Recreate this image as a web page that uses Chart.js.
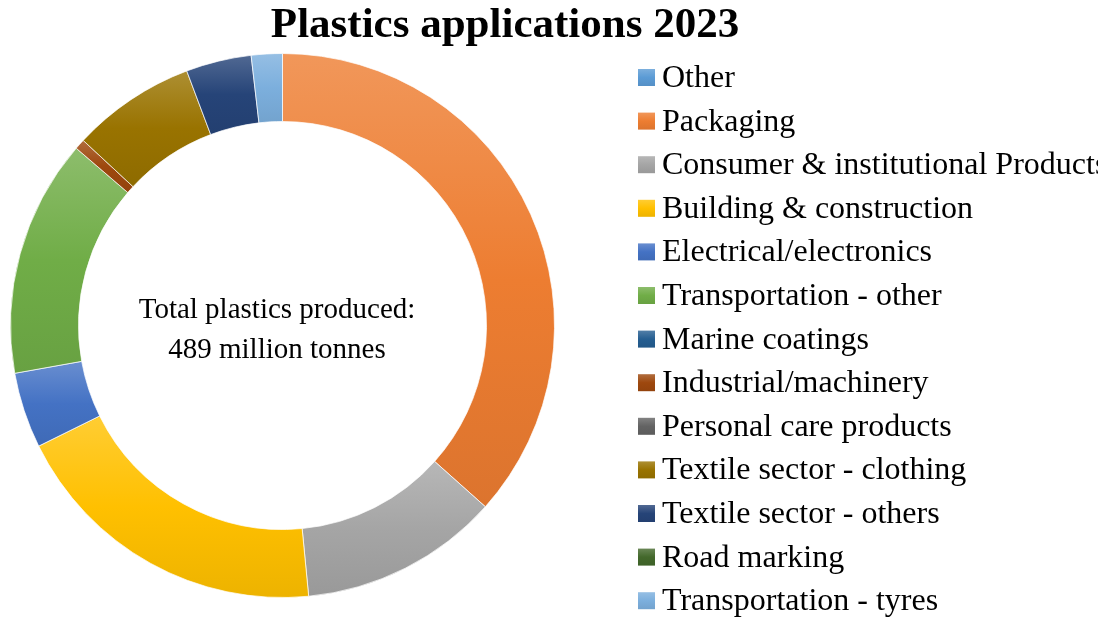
<!DOCTYPE html>
<html>
<head>
<meta charset="utf-8">
<title>Plastics applications 2023</title>
<script src="https://cdn.jsdelivr.net/npm/chart.js@4.4.1/dist/chart.umd.min.js"></script>
<style>
  html, body { margin: 0; padding: 0; background: #ffffff; }
  #wrap { width: 1098px; height: 617px; position: relative; }
</style>
</head>
<body>
<div id="wrap"><canvas id="applications"></canvas></div>
<script>
// application sectors, million tonnes
const sectors = [
    'Other',
    'Packaging',
    'Consumer & institutional Products',
    'Building & construction',
    'Electrical/electronics',
    'Transportation - other',
    'Marine coatings',
    'Industrial/machinery',
    'Personal care products',
    'Textile sector - clothing',
    'Textile sector - others',
    'Road marking',
    'Transportation - tyres'
];
const tonnes = [0, 179, 58, 94, 22, 69, 0, 3, 0, 36, 19, 0, 9];
const sectorColors = [
    '#5B9BD5', '#ED7D31', '#A5A5A5', '#FFC000', '#4472C4', '#70AD47',
    '#255E91', '#9E480E', '#636363', '#997300', '#264478', '#43682B', '#7CAFDD'
];
const chartTitle = 'Plastics applications 2023';
const centerLines = ['Total plastics produced:', '489 million tonnes'];

const SERIF = '"Liberation Serif", "Times New Roman", serif';
const CUTOUT = 0.75;

function hexRgb(hex){
    let n = parseInt(hex.slice(1), 16);
    return [(n >> 16) & 255, (n >> 8) & 255, n & 255];
}
function mix(hex, other, t){
    let a = hexRgb(hex), b = hexRgb(other);
    let c = a.map((v, k) => Math.round(v + (b[k] - v) * t));
    return `rgb(${c[0]}, ${c[1]}, ${c[2]})`;
}
function shade(ctx, color, y0, y1){
    let g = ctx.createLinearGradient(0, y0, 0, y1);
    g.addColorStop(0, mix(color, '#ffffff', 0.2));
    g.addColorStop(0.5, color);
    g.addColorStop(1, mix(color, '#000000', 0.07));
    return g;
}

// each slice gets its own top-to-bottom gradient over its vertical extent
function sliceFill(context){
    const chart = context.chart;
    const area = chart.chartArea;
    const i = context.dataIndex;
    const color = sectorColors[i];
    if (!area) return color;
    const cy = (area.top + area.bottom) / 2;
    const outer = Math.min(area.width, area.height) / 2;
    const inner = outer * CUTOUT;
    const total = tonnes.reduce((a, b) => a + b, 0);
    let before = 0;
    for (let k = 0; k < i; k++) before += tonnes[k];
    const a0 = -Math.PI / 2 + before / total * 2 * Math.PI;
    const a1 = a0 + tonnes[i] / total * 2 * Math.PI;
    let ys = [Math.sin(a0) * outer, Math.sin(a1) * outer, Math.sin(a0) * inner, Math.sin(a1) * inner];
    for (const c of [-Math.PI / 2, Math.PI / 2, 3 * Math.PI / 2])
        if (c > a0 && c < a1) ys.push(Math.sin(c) * outer);
    let y0 = cy + Math.min(...ys), y1 = cy + Math.max(...ys);
    if (y1 - y0 < 1) y1 = y0 + 1;
    return shade(chart.ctx, color, y0, y1);
}

const textPlugin = {
    id: 'textLayer',
    afterDraw(chart){
        const c = chart.ctx;
        c.save();
        c.fillStyle = '#000000';
        c.textAlign = 'center';
        c.textBaseline = 'alphabetic';

        c.font = `bold 43px ${SERIF}`;
        c.fillText(chartTitle, 505, 37);

        c.font = `29px ${SERIF}`;
        c.fillText(centerLines[0], 277, 318);
        c.fillText(centerLines[1], 277, 358);

        // legend on the right
        c.textAlign = 'left';
        c.textBaseline = 'middle';
        c.font = `32px ${SERIF}`;
        sectors.forEach((name, i) => {
            let y = 77.5 + i * 43.6;
            c.fillStyle = shade(c, sectorColors[i], y - 8.5, y + 8.5);
            c.fillRect(638, y - 8.5, 17, 17);
            c.fillStyle = '#000000';
            c.fillText(name, 662, y + 1);
        });
        c.restore();
    }
};

const data = {
    labels: sectors,
    datasets: [{
        label: 'Million tonnes',
        data: tonnes,
        backgroundColor: sliceFill,
        borderColor: 'rgba(255,255,255,0.7)',
        borderWidth: 1
    }]
};

const config = {
    type: 'doughnut',
    data: data,
    options: {
        responsive: true,
        maintainAspectRatio: false,
        animation: false,
        cutout: (CUTOUT * 100) + '%',
        layout: { padding: { left: 10, right: 543, top: 53, bottom: 19 } },
        plugins: {
            legend: { display: false },
            title: { display: false },
            tooltip: { enabled: false }
        }
    },
    plugins: [textPlugin]
};

let ctx = document.getElementById('applications').getContext('2d');
new Chart(ctx, config);
</script>
</body>
</html>
